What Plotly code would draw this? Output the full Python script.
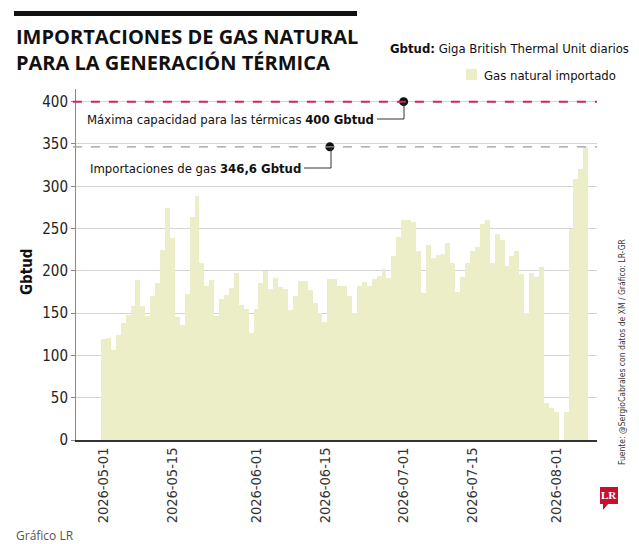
import pandas as pd
import plotly.graph_objects as go

# daily imported natural gas, Gbtud, starting 2026-05-01
start_date = "2026-05-01"
gas_importado = [
    120, 121, 107, 124, 138, 148, 158, 189, 158, 147,
    170, 186, 225, 274, 239, 146, 136, 173, 264, 289,
    209, 182, 189, 147, 167, 172, 180, 198, 160, 155,
    126, 155, 186, 200, 178, 191, 181, 179, 154, 170,
    188, 188, 177, 162, 150, 139, 190, 190, 182, 182,
    170, 150, 182, 187, 182, 190, 194, 202, 191, 217,
    240, 260, 260, 258, 223, 174, 231, 215, 219, 220,
    233, 209, 175, 193, 209, 224, 228, 255, 260, 209,
    243, 236, 206, 217, 224, 196, 150, 198, 193, 204,
    44, 38, 33, None, 33, 249, 309, 320, 346.6,
]
fechas = pd.date_range(start_date, periods=len(gas_importado), freq="D")

capacidad_max = 400
importacion_actual = 346.6
fecha_dot_capacidad = "2026-07-01"
fecha_dot_importacion = "2026-06-16"

tick_fechas = ["2026-05-01", "2026-05-15", "2026-06-01", "2026-06-15",
               "2026-07-01", "2026-07-15", "2026-08-01"]
y_ticks = [0, 50, 100, 150, 200, 250, 300, 350, 400]

NARROW = "Liberation Sans Narrow, DejaVu Sans Condensed, Roboto, sans-serif"
BAR = "#ebeec6"

# plot area in pixels (for placing the decorations)
L, R, T, B = 76, 597, 89, 440


def px(x):
    return (x - L) / (R - L)


def py(y):
    return (B - y) / (B - T)


fig = go.Figure()
fig.add_trace(go.Bar(
    x=fechas, y=gas_importado, marker_color=BAR, marker_line_width=0,
    name="Gas natural importado", showlegend=False,
))
fig.add_trace(go.Scatter(
    x=[fecha_dot_capacidad, fecha_dot_importacion],
    y=[capacidad_max, importacion_actual],
    mode="markers", marker=dict(color="#111", size=9),
    showlegend=False, hoverinfo="skip", cliponaxis=False,
))

shapes = [
    # reference lines
    dict(type="line", xref="paper", yref="y", x0=-0.006, x1=1, y0=capacidad_max, y1=capacidad_max,
         line=dict(color="#d41f6c", width=2, dash="dash"), layer="above"),
    dict(type="line", xref="paper", yref="y", x0=-0.006, x1=1, y0=importacion_actual, y1=importacion_actual,
         line=dict(color="#9a9a9a", width=1.2, dash="dash"), layer="above"),
    # connectors from labels to dots
    dict(type="path", xref="paper", yref="paper",
         path=f"M{px(377)},{py(119)} L{px(404)},{py(119)} L{px(404)},{py(102)}",
         line=dict(color="#333", width=1)),
    dict(type="path", xref="paper", yref="paper",
         path=f"M{px(304)},{py(168)} L{px(331)},{py(168)} L{px(331)},{py(147)}",
         line=dict(color="#333", width=1)),
    # heading bar
    dict(type="rect", xref="paper", yref="paper", x0=px(14), x1=px(357), y0=py(11), y1=py(16),
         fillcolor="#111", line_width=0),
    # legend swatch
    dict(type="rect", xref="paper", yref="paper", x0=px(466), x1=px(477), y0=py(69), y1=py(80),
         fillcolor=BAR, line_width=0),
    # LR logo
    dict(type="rect", xref="paper", yref="paper", x0=px(600), x1=px(618), y0=py(487), y1=py(504),
         fillcolor="#c8102e", line_width=0),
    dict(type="path", xref="paper", yref="paper",
         path=f"M{px(603)},{py(503)} L{px(609)},{py(503)} L{px(603)},{py(510)} Z",
         fillcolor="#c8102e", line_width=0),
]

annotations = [
    dict(x=px(14), y=py(49), align="left",
         text="<b>IMPORTACIONES DE GAS NATURAL<br>PARA LA GENERACIÓN TÉRMICA</b>",
         font=dict(family="Open Sans", size=20, color="#111")),
    dict(x=px(631), y=py(48), xanchor="right",
         text="<b>Gbtud:</b> Giga British Thermal Unit diarios",
         font=dict(family=NARROW, size=13, color="#111")),
    dict(x=px(482), y=py(75), text="Gas natural importado",
         font=dict(family=NARROW, size=13, color="#111")),
    dict(x=px(376), y=py(119), xanchor="right",
         text="Máxima capacidad para las térmicas <b>400 Gbtud</b>",
         font=dict(family=NARROW, size=13, color="#111")),
    dict(x=px(303), y=py(168), xanchor="right",
         text="Importaciones de gas <b>346,6 Gbtud</b>",
         font=dict(family=NARROW, size=13, color="#111")),
    dict(x=px(27), y=py(272), xanchor="center", text="<b>Gbtud</b>", textangle=-90,
         font=dict(family=NARROW, size=15, color="#111")),
    dict(x=px(622), y=py(352), xanchor="center",
         text="Fuente: @SergioCabrales con datos de XM / Gráfico: LR-GR", textangle=-90,
         font=dict(family=NARROW, size=8.5, color="#333")),
    dict(x=px(14), y=py(535), text="Gráfico LR",
         font=dict(family="Open Sans", size=12, color="#555")),
    dict(x=px(609), y=py(495), xanchor="center", text="<b>LR</b>",
         font=dict(family="Liberation Serif, DejaVu Serif, serif", size=11, color="white")),
]
for a in annotations:
    a.update(xref="paper", yref="paper", showarrow=False)
    a.setdefault("xanchor", "left")
    a.setdefault("yanchor", "middle")

fig.update_layout(
    width=639, height=544,
    margin=dict(l=L, r=639 - R, t=T, b=544 - B),
    paper_bgcolor="white", plot_bgcolor="white",
    bargap=0,
    shapes=shapes, annotations=annotations,
    font=dict(family=NARROW, color="#222"),
    xaxis=dict(
        type="date",
        range=["2026-04-25 10:00", "2026-08-09 07:00"],
        tickvals=tick_fechas, ticktext=tick_fechas, tickangle=-90,
        tickfont=dict(family=NARROW, size=14.5, color="#333"),
        showgrid=False, showline=True, linecolor="#333", linewidth=1.5,
        ticks="", fixedrange=True,
    ),
    yaxis=dict(
        range=[0, 415], tickvals=y_ticks,
        tickfont=dict(family=NARROW, size=15, color="#222"),
        showgrid=True, gridcolor="#d4d4d4", gridwidth=1,
        zeroline=False, showline=True, linecolor="#888", linewidth=1,
        ticks="outside", ticklen=4, tickcolor="#888",
    ),
)

fig.write_html("out.html", config={"displayModeBar": False},
               post_script="document.body.style.margin='0';")
